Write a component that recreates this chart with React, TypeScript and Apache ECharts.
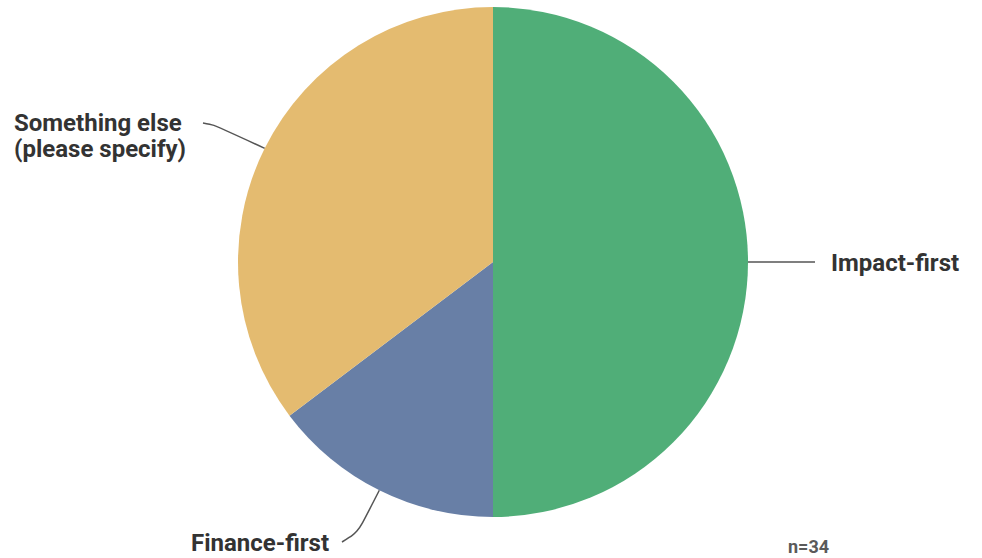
import React, { useEffect, useRef } from "react";
import * as echarts from "echarts";

const categories = ["Impact-first", "Finance-first", "Something else\n(please specify)"];
const counts = [17, 5, 12];
const colors = ["#50AE78", "#687FA6", "#E4BB70"];
const sampleNote = "n=34";

export default function App() {
  const ref = useRef<HTMLDivElement>(null);
  useEffect(() => {
    if (!ref.current) return;
    const chart = echarts.init(ref.current, null, { renderer: "svg" });
    const data = categories.map((name, i) => ({
      name,
      value: counts[i],
      itemStyle: { color: colors[i] },
    }));
    chart.setOption({
      animation: false,
      backgroundColor: "#ffffff",
      graphic: [
        {
          type: "text",
          left: 788,
          top: 537,
          style: {
            text: sampleNote,
            fill: "#5a5a5a",
            font: "bold 18px Roboto",
            lineHeight: 18,
          },
        },
      ],
      series: [
        {
          type: "pie",
          center: [493, 262],
          radius: [0, 255],
          startAngle: 90,
          clockwise: true,
          data,
          label: {
            show: true,
            position: "outside",
            color: "#333333",
            fontFamily: "Roboto",
            fontWeight: "bold",
            fontSize: 24,
            lineHeight: 26,
          },
          labelLine: {
            show: true,
            smooth: 0.3,
            lineStyle: { color: "#555555", width: 1.5 },
          },
          labelLayout: (params: any) => {
            const p0 = params.labelLinePoints ? params.labelLinePoints[0] : [0, 0];
            const i = params.dataIndex;
            if (i === 0) {
              return {
                x: 831,
                y: 263,
                align: "left",
                verticalAlign: "middle",
                labelLinePoints: [p0, [(p0[0] + 815) / 2, p0[1]], [815, p0[1]]],
              };
            }
            if (i === 1) {
              return {
                x: 191,
                y: 543,
                align: "left",
                verticalAlign: "middle",
                labelLinePoints: [p0, [358, 532], [342, 542]],
              };
            }
            return {
              x: 14,
              y: 136,
              align: "left",
              verticalAlign: "middle",
              labelLinePoints: [p0, [214, 125], [203, 123]],
            };
          },
        },
      ],
    });
    return () => chart.dispose();
  }, []);
  return (
    <div
      ref={ref}
      style={{ position: "absolute", left: 0, top: 0, width: 982, height: 558 }}
    />
  );
}
